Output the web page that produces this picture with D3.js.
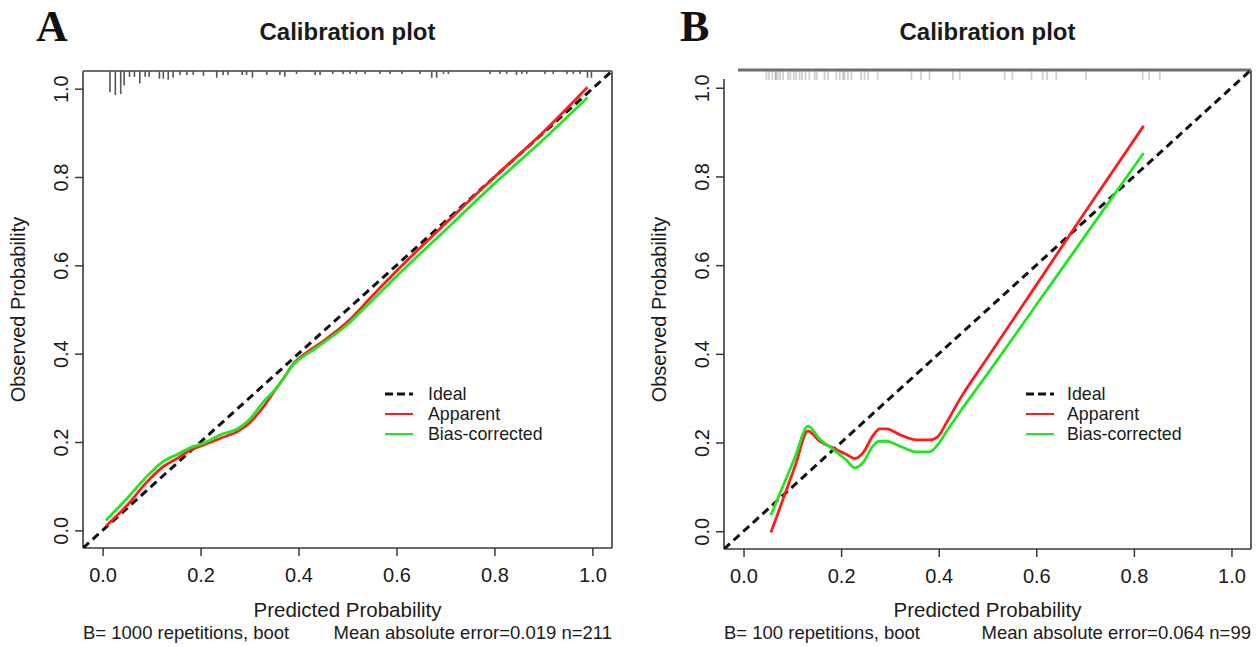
<!DOCTYPE html>
<html>
<head>
<meta charset="utf-8">
<script src="https://cdn.jsdelivr.net/npm/d3@7"></script>
<style>
  html, body { margin: 0; padding: 0; background: #fff; }
  svg { display: block; }
  text { font-family: "Liberation Sans", Arial, sans-serif; fill: #1a1a1a; }
</style>
</head>
<body>
<svg id="chart" width="1260" height="647"></svg>
<script>
// ---------------- data ----------------
const axisTicks = [0, 0.2, 0.4, 0.6, 0.8, 1.0];
const legendLabels = ["Ideal", "Apparent", "Bias-corrected"];
const panelLetters = ["A", "B"];
const titles = ["Calibration plot", "Calibration plot"];
const xTitle = "Predicted Probability";
const yTitle = "Observed Probability";
const footLeft = ["B= 1000 repetitions, boot", "B= 100 repetitions, boot"];
const footRight = ["Mean absolute error=0.019 n=211", "Mean absolute error=0.064 n=99"];

// Panel A curves
const predA = [0.007, 0.052, 0.086, 0.12, 0.154, 0.181, 0.208, 0.242, 0.276, 0.30, 0.33, 0.35, 0.37, 0.39, 0.42, 0.45, 0.5, 0.55, 0.6, 0.7, 0.8, 0.9, 0.99];
const apparentA = [0.010, 0.059, 0.104, 0.141, 0.164, 0.183, 0.194, 0.209, 0.224, 0.243, 0.282, 0.314, 0.345, 0.378, 0.405, 0.428, 0.472, 0.53, 0.587, 0.695, 0.80, 0.902, 1.003];
const biasA = [0.023, 0.075, 0.117, 0.153, 0.173, 0.188, 0.198, 0.217, 0.230, 0.251, 0.293, 0.316, 0.345, 0.376, 0.401, 0.424, 0.466, 0.52, 0.575, 0.68, 0.785, 0.885, 0.98];

// Panel B curves
const predB = [0.056, 0.081, 0.106, 0.132, 0.156, 0.183, 0.211, 0.228, 0.245, 0.265, 0.279, 0.293, 0.32, 0.354, 0.381, 0.398, 0.416, 0.443, 0.5, 0.6, 0.7, 0.82];
const apparentB = [-0.003, 0.072, 0.148, 0.226, 0.203, 0.188, 0.173, 0.164, 0.177, 0.215, 0.231, 0.231, 0.218, 0.206, 0.206, 0.213, 0.245, 0.297, 0.391, 0.555, 0.72, 0.914];
const biasB = [0.036, 0.102, 0.168, 0.237, 0.208, 0.185, 0.160, 0.143, 0.155, 0.192, 0.203, 0.203, 0.192, 0.179, 0.179, 0.195, 0.225, 0.268, 0.355, 0.51, 0.666, 0.853];

// Distribution of predictions (rug along top); A with relative frequencies
const rugAx = [0.015, 0.026, 0.037, 0.044, 0.055, 0.065, 0.076, 0.087, 0.095, 0.116, 0.124, 0.134, 0.144, 0.158, 0.172, 0.185, 0.206, 0.233, 0.246, 0.256, 0.285, 0.294, 0.306, 0.335, 0.362, 0.372, 0.396, 0.434, 0.444, 0.47, 0.491, 0.505, 0.518, 0.536, 0.566, 0.587, 0.611, 0.648, 0.672, 0.682, 0.696, 0.706, 0.791, 0.811, 0.825, 0.845, 0.856, 0.866, 0.903, 0.92, 0.948, 0.961, 0.975, 0.99, 0.998];
const rugAn = [20, 23, 22, 13, 4, 4, 11, 4, 4, 6, 6, 7, 5, 2, 2, 2, 3, 5, 2, 2, 2, 2, 5, 2, 2, 4, 1, 2, 2, 1, 1, 1, 1, 1, 1, 1, 1, 1, 5, 5, 1, 1, 1, 1, 1, 2, 1, 1, 1, 1, 1, 1, 1, 5, 5];
const rugBx = [0.047, 0.052, 0.059, 0.066, 0.066, 0.070, 0.075, 0.081, 0.091, 0.096, 0.103, 0.108, 0.115, 0.120, 0.127, 0.135, 0.146, 0.150, 0.166, 0.173, 0.190, 0.197, 0.204, 0.207, 0.214, 0.221, 0.241, 0.248, 0.255, 0.275, 0.344, 0.364, 0.381, 0.429, 0.443, 0.535, 0.551, 0.590, 0.613, 0.622, 0.641, 0.702, 0.818, 0.831, 0.853];

// ---------------- drawing ----------------
const svg = d3.select("#chart");
const colIdeal = "#111", colApp = "#ff1c1c", colBias = "#22e622";
const fmt = d3.format(".1f");

const panels = [
  { box: { l: 83, r: 612, t: 71, b: 548 }, pred: predA, app: apparentA, bias: biasA,
    rugX: rugAx, rugN: rugAn, legendX: 385, legendTextX: 428, letterX: 36, fullTop: true },
  { box: { l: 724, r: 1251, t: 70, b: 549 }, pred: predB, app: apparentB, bias: biasB,
    rugX: rugBx, rugN: null, legendX: 1026, legendTextX: 1067, letterX: 680, fullTop: false }
];

panels.forEach((p, i) => {
  const g = svg.append("g");
  const b = p.box;
  const x = d3.scaleLinear().domain([-0.04, 1.04]).range([b.l, b.r]);
  const y = d3.scaleLinear().domain([-0.04, 1.04]).range([b.b, b.t]);
  const cx = (b.l + b.r) / 2;

  const clipId = "clip" + i;
  g.append("clipPath").attr("id", clipId).append("rect")
    .attr("x", b.l).attr("y", b.t).attr("width", b.r - b.l).attr("height", b.b - b.t);

  // panel letter
  g.append("text").attr("x", p.letterX).attr("y", 41)
    .style("font-family", "'Liberation Serif', 'Times New Roman', serif")
    .style("font-weight", "bold").style("font-size", "44px").style("fill", "#111")
    .text(panelLetters[i]);

  // title
  g.append("text").attr("x", cx).attr("y", 40).attr("text-anchor", "middle")
    .style("font-weight", "bold").style("font-size", "24px").text(titles[i]);

  // box
  const boxCol = "#3a3a3a";
  g.append("line").attr("x1", b.l).attr("x2", b.r).attr("y1", b.b).attr("y2", b.b)
    .attr("stroke", boxCol).attr("stroke-width", 1.6);
  g.append("line").attr("x1", b.r).attr("x2", b.r).attr("y1", b.t).attr("y2", b.b)
    .attr("stroke", boxCol).attr("stroke-width", 1.6);
  g.append("line").attr("x1", b.l).attr("x2", b.l).attr("y1", p.fullTop ? b.t : b.t + 9).attr("y2", b.b)
    .attr("stroke", boxCol).attr("stroke-width", 1.6);
  g.append("line").attr("x1", p.fullTop ? b.l : b.l + 14).attr("x2", b.r).attr("y1", b.t).attr("y2", b.t)
    .attr("stroke", "#6e6e6e").attr("stroke-width", p.fullTop ? 2 : 3);

  // x axis
  const xAxis = d3.axisBottom(x).tickValues(axisTicks).tickFormat(fmt).tickSize(8).tickPadding(6);
  const gx = g.append("g").attr("transform", `translate(0,${b.b})`).call(xAxis);
  gx.select(".domain").remove();
  gx.selectAll(".tick line").attr("stroke", boxCol).attr("stroke-width", 1.5);
  gx.selectAll(".tick text").style("font-size", "20px").style("font-family", "'Liberation Sans', Arial, sans-serif")
    .attr("fill", "#1a1a1a").attr("y", 20).attr("dy", "0.71em");

  // y axis
  const yAxis = d3.axisLeft(y).tickValues(axisTicks).tickFormat(fmt).tickSize(8);
  const gy = g.append("g").attr("transform", `translate(${b.l},0)`).call(yAxis);
  gy.select(".domain").remove();
  gy.selectAll(".tick line").attr("stroke", boxCol).attr("stroke-width", 1.5);
  gy.selectAll(".tick text").style("font-size", "20px").style("font-family", "'Liberation Sans', Arial, sans-serif")
    .attr("fill", "#1a1a1a")
    .attr("x", 0).attr("dy", null)
    .attr("text-anchor", "middle")
    .attr("dominant-baseline", "central")
    .attr("transform", "translate(-22,0) rotate(-90)");

  // axis titles
  g.append("text").attr("x", cx).attr("y", 617).attr("text-anchor", "middle")
    .style("font-size", "20.5px").text(xTitle);
  g.append("text").attr("transform", `translate(${b.l - 65},${(b.t + b.b) / 2}) rotate(-90)`)
    .attr("text-anchor", "middle").attr("dominant-baseline", "central")
    .style("font-size", "20px").text(yTitle);

  // footer
  g.append("text").attr("x", b.l).attr("y", 639).style("font-size", "18.5px").text(footLeft[i]);
  g.append("text").attr("x", b.r).attr("y", 639).attr("text-anchor", "end").style("font-size", "18.5px").text(footRight[i]);

  // rug
  if (p.rugN) {
    const len = d3.scaleLinear().domain([0, d3.max(p.rugN)]).range([2, 24]);
    g.append("g").selectAll("line").data(p.rugX).join("line")
      .attr("x1", d => x(d)).attr("x2", d => x(d))
      .attr("y1", b.t).attr("y2", (d, k) => b.t + len(p.rugN[k]))
      .attr("stroke", "#555").attr("stroke-width", 1.6);
  } else {
    g.append("g").selectAll("line").data(p.rugX).join("line")
      .attr("x1", d => x(d)).attr("x2", d => x(d))
      .attr("y1", b.t).attr("y2", b.t + 10)
      .attr("stroke", "#777").attr("stroke-opacity", 0.35).attr("stroke-width", 1.8);
  }

  const plot = g.append("g").attr("clip-path", `url(#${clipId})`);
  // ideal
  plot.append("line").attr("x1", x(-0.04)).attr("y1", y(-0.04)).attr("x2", x(1.04)).attr("y2", y(1.04))
    .attr("stroke", colIdeal).attr("stroke-width", 3).attr("stroke-dasharray", "8,5");

  const line = d3.line().x(d => x(d[0])).y(d => y(d[1])).curve(d3.curveMonotoneX);
  plot.append("path").datum(p.pred.map((v, k) => [v, p.app[k]])).attr("d", line)
    .attr("fill", "none").attr("stroke", colApp).attr("stroke-width", 2.8).attr("stroke-linejoin", "round");
  plot.append("path").datum(p.pred.map((v, k) => [v, p.bias[k]])).attr("d", line)
    .attr("fill", "none").attr("stroke", colBias).attr("stroke-width", 2.8).attr("stroke-linejoin", "round");

  // legend
  const rows = [394, 414, 434];
  const styles = [
    { c: colIdeal, w: 3, dash: "8,4" },
    { c: colApp, w: 2, dash: null },
    { c: colBias, w: 2, dash: null }
  ];
  legendLabels.forEach((lab, k) => {
    g.append("line").attr("x1", p.legendX).attr("x2", p.legendX + 28).attr("y1", rows[k]).attr("y2", rows[k])
      .attr("stroke", styles[k].c).attr("stroke-width", styles[k].w)
      .attr("stroke-dasharray", styles[k].dash);
    g.append("text").attr("x", p.legendTextX).attr("y", rows[k]).attr("dominant-baseline", "central")
      .style("font-size", "17.8px").text(lab);
  });
});
</script>
</body>
</html>
